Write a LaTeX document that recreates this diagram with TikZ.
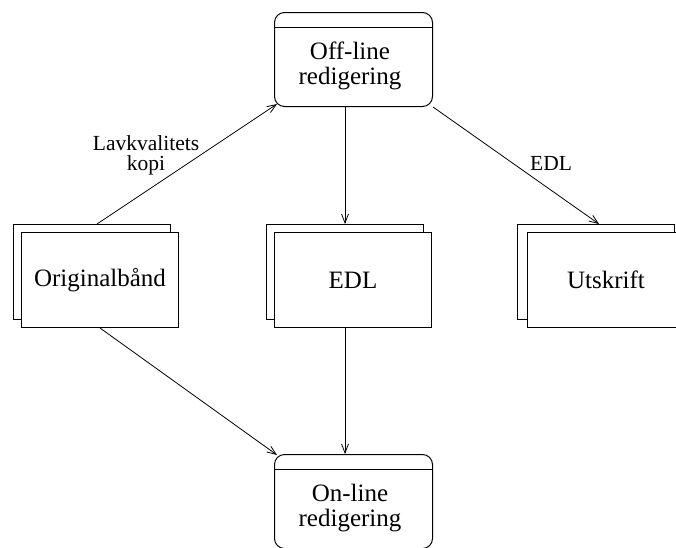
\documentclass[tikz,border=0pt]{standalone}
\usepackage{fontspec}
\setmainfont{Liberation Serif}
\usetikzlibrary{arrows.meta}
\begin{document}
\begin{tikzpicture}[x=1pt,y=-1pt,
  boxline/.style={draw=black,line width=1pt},
  sheet/.style={boxline,fill=white,minimum width=157pt,minimum height=95pt,inner sep=0pt,anchor=north west},
  procbox/.style={boxline,rounded corners=10pt,minimum width=158pt,minimum height=94pt,inner sep=0pt,anchor=north west},
  nodetext/.style={align=center,font=\fontsize{25}{25}\selectfont,inner sep=0pt},
  labeltext/.style={align=center,font=\fontsize{21.5}{20}\selectfont,inner sep=0pt},
  flow/.style={draw=black,line width=0.8pt,-{Straight Barb[length=9pt,width=7pt,line width=0.8pt]}}]
\useasboundingbox (0,0) rectangle (676,547);
\clip (0,0) rectangle (676,547);

% process boxes with a header strip
\node[procbox] (offline) at (274,12) {};
\draw[boxline] ([yshift=-15pt]offline.north west) -- ([yshift=-15pt]offline.north east);
\node[nodetext] (offtxt) at (350,66) {Off-line\\redigering};

\node[procbox] (online) at (274,454) {};
\draw[boxline] ([yshift=-15pt]online.north west) -- ([yshift=-15pt]online.north east);
\node[nodetext] (ontxt) at (350,508) {On-line\\redigering};

% stacked document sheets
\node[sheet] (origB) at (13,224) {};
\node[sheet] (origF) at (21,232) {};
\node[nodetext] (origtxt) at (origF.center) {Originalbånd};

\node[sheet] (edlB) at (266,224) {};
\node[sheet] (edlF) at (274,232) {};
\node[nodetext] (edltxt) at (edlF.center) {EDL};

\node[sheet] (utskB) at (517,224) {};
\node[sheet] (utskF) at (527,232) {};
\node[nodetext] (utsktxt) at (606,280) {Utskrift};

% connectors
\draw[flow] ([xshift=5pt]origB.north) -- ([shift={(3pt,3pt)}]offline.south west);
\draw[flow] (edlB.north |- offline.south) -- (edlB.north);
\draw[flow] (offline.south east) -- ([xshift=3pt]utskB.north);
\draw[flow] (edlB.north |- edlF.south) -- (edlB.north |- online.north);
\draw[flow] (origF.south) -- ([shift={(3pt,-1pt)}]online.north west);

% connector labels
\node[labeltext] (lbl1) at (146,155) {Lavkvalitets\\kopi};
\node[labeltext] (lbl2) at (551,163) {EDL};
\end{tikzpicture}
\end{document}
